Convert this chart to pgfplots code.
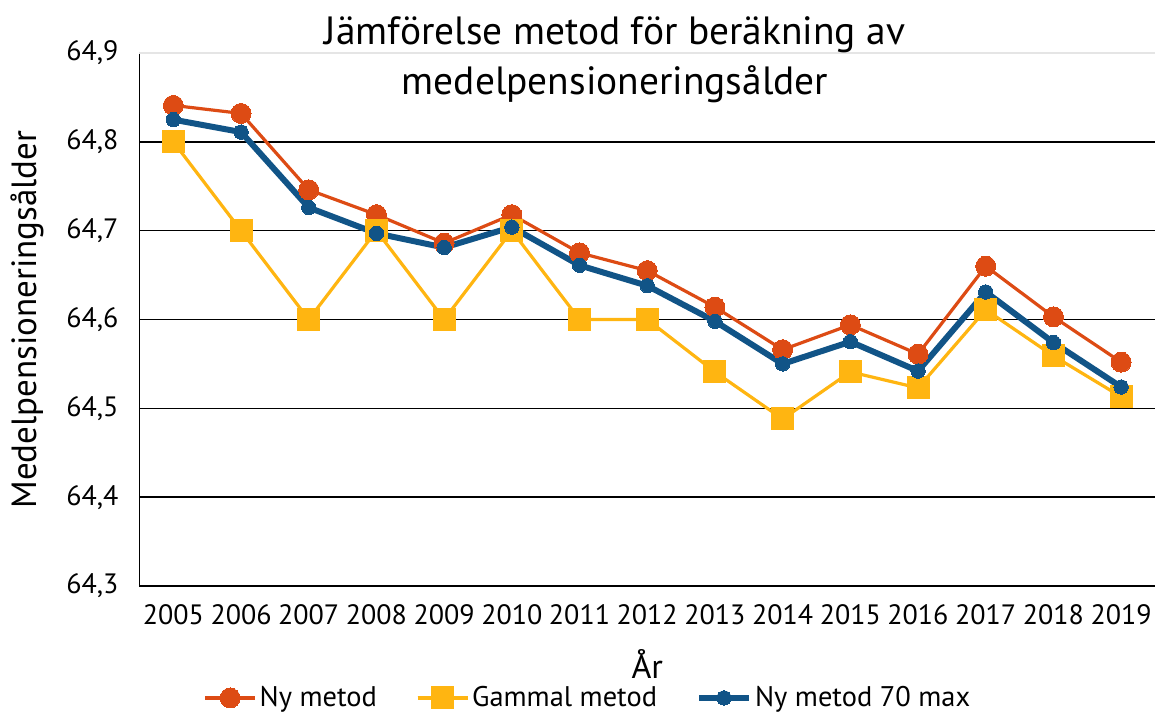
\documentclass[border=0pt]{standalone}
\usepackage{pgfplots}
\pgfplotsset{compat=1.18}
\usepackage{fontspec}
\setmainfont{PT Sans}
\definecolor{cOr}{RGB}{221,75,20}
\definecolor{cYe}{RGB}{255,181,17}
\definecolor{cBl}{RGB}{17,84,135}
\begin{document}
\begin{tikzpicture}
\begin{axis}[
  name=ax, at={(0,0)}, anchor=south west,
  scale only axis, width=507.75pt, height=266.5pt,
  xmin=2004.5, xmax=2019.5, ymin=64.3, ymax=64.9,
  xtick={2005,...,2019},
  ytick={64.3,64.4,...,64.9},
  yticklabels={{64,3},{64,4},{64,5},{64,6},{64,7},{64,8},{64,9}},
  /pgf/number format/1000 sep={},
  /pgf/number format/assume math mode=true,
  tick style={draw=none},
  axis x line*=bottom, axis y line*=left,
  axis line style={black, line width=0.9pt},
  ymajorgrids, grid style={black, line width=0.8pt},
  tick label style={font=\fontsize{14}{16}\selectfont},
  xticklabel style={yshift=-6pt},
  yticklabel style={xshift=-7pt},
  clip=false,
  legend style={draw=none, at={(0.442,-0.21)}, anchor=center,
     font=\fontsize{14.2}{16}\selectfont, legend columns=3,
     nodes={inner xsep=1.5pt, inner ysep=1pt},
     /tikz/every even column/.append style={column sep=18pt}},
  legend image code/.code={\draw[#1] (0pt,0pt) -- (25pt,0pt); \draw[#1,mark repeat=2,mark phase=2] plot coordinates {(0pt,0pt) (12.5pt,0pt) (25pt,0pt)};},
]
\draw[gray!20, line width=0.6pt] (axis cs:2004.5,64.9) -- (axis cs:2019.5,64.9);
\addplot[cOr, line width=1.6pt, mark=*, mark size=5pt, mark options={fill=cOr, draw=cOr, line width=0pt}]
coordinates {(2005,64.841)(2006,64.832)(2007,64.746)(2008,64.718)(2009,64.686)(2010,64.718)(2011,64.675)(2012,64.655)(2013,64.614)(2014,64.566)(2015,64.594)(2016,64.561)(2017,64.660)(2018,64.603)(2019,64.552)};
\addlegendentry{Ny metod}
\addplot[cYe, line width=1.6pt, mark=square*, mark size=5.5pt, mark options={fill=cYe, draw=cYe, line width=0pt}]
coordinates {(2005,64.8)(2006,64.7)(2007,64.6)(2008,64.7)(2009,64.6)(2010,64.7)(2011,64.6)(2012,64.6)(2013,64.541)(2014,64.488)(2015,64.541)(2016,64.523)(2017,64.611)(2018,64.559)(2019,64.513)};
\addlegendentry{Gammal metod}
\addplot[cBl, line width=3pt, mark=*, mark size=3.6pt, mark options={fill=cBl, draw=cBl, line width=0pt}]
coordinates {(2005,64.825)(2006,64.811)(2007,64.726)(2008,64.697)(2009,64.681)(2010,64.704)(2011,64.661)(2012,64.638)(2013,64.598)(2014,64.550)(2015,64.575)(2016,64.542)(2017,64.631)(2018,64.574)(2019,64.524)};
\addlegendentry{Ny metod 70 max}
\node[font=\fontsize{19.7}{25}\selectfont, align=center] at ([xshift=237.75pt,yshift=-3.5pt]rel axis cs:0,1) {Jämförelse metod för beräkning av\\medelpensioneringsålder};
\node[font=\fontsize{17}{20}\selectfont, inner sep=0pt] at ([yshift=-39pt]rel axis cs:0.5,0) {År};
\node[font=\fontsize{17.5}{20}\selectfont, rotate=90] at ([xshift=-56pt]rel axis cs:0,0.5) {Medelpensioneringsålder};
\end{axis}
\pgfresetboundingbox
\path (-69.75pt,-64.5pt) rectangle (508.75pt,293pt);
\end{tikzpicture}
\end{document}
